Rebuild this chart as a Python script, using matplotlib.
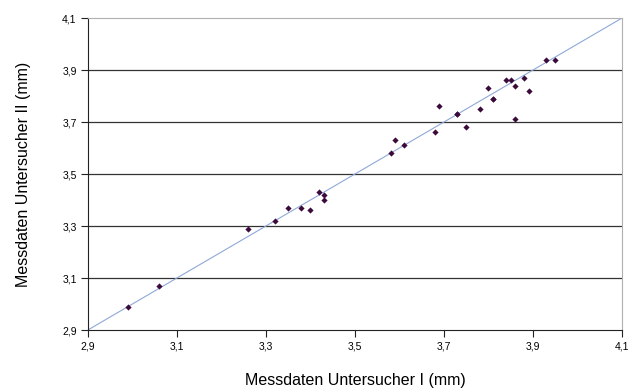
import matplotlib
matplotlib.use("Agg")
import matplotlib.pyplot as plt
from matplotlib.ticker import FuncFormatter

# Messwerte (mm): Untersucher I vs. Untersucher II
x_vals = [2.99, 3.06, 3.26, 3.32, 3.35, 3.38, 3.40, 3.42, 3.43, 3.43,
          3.58, 3.59, 3.61, 3.68, 3.69, 3.73, 3.73, 3.75, 3.78, 3.80,
          3.81, 3.81, 3.84, 3.85, 3.86, 3.86, 3.88, 3.89, 3.93, 3.95]
y_vals = [2.99, 3.07, 3.29, 3.32, 3.37, 3.37, 3.36, 3.43, 3.40, 3.42,
          3.58, 3.63, 3.61, 3.66, 3.76, 3.73, 3.73, 3.68, 3.75, 3.83,
          3.79, 3.79, 3.86, 3.86, 3.84, 3.71, 3.87, 3.82, 3.94, 3.94]
ticks = [2.9, 3.1, 3.3, 3.5, 3.7, 3.9, 4.1]

plt.rcParams["font.family"] = ["Liberation Sans", "DejaVu Sans"]

fig = plt.figure(figsize=(6.36, 3.92), dpi=100)
ax = fig.add_axes([0.138, 0.158, 0.840, 0.796])

# Winkelhalbierende
ax.plot([ticks[0], ticks[-1]], [ticks[0], ticks[-1]], color="#8fa8d8", lw=0.8, zorder=2)
ax.scatter(x_vals, y_vals, marker="D", s=10, color="#3b0a3b", zorder=3, linewidths=0)

ax.set_xlim(ticks[0], ticks[-1])
ax.set_ylim(ticks[0], ticks[-1])
ax.set_xticks(ticks)
ax.set_yticks(ticks)
comma = FuncFormatter(lambda v, p: f"{v:.1f}".replace(".", ","))
ax.xaxis.set_major_formatter(comma)
ax.yaxis.set_major_formatter(comma)
ax.tick_params(labelsize=7.5, direction="out", length=5, width=0.8, color="#222222", pad=3)

for t in ticks[1:-1]:
    ax.axhline(t, color="#333333", lw=0.9, zorder=1)

ax.spines["left"].set_color("#222222")
ax.spines["bottom"].set_color("#222222")
ax.spines["top"].set_color("#b0b0b0")
ax.spines["right"].set_color("#b0b0b0")
for s in ax.spines.values():
    s.set_linewidth(0.8)

ax.set_xlabel("Messdaten Untersucher I (mm)", fontsize=11.5, labelpad=16)
ax.set_ylabel("Messdaten Untersucher II (mm)", fontsize=11.5, labelpad=22)

fig.savefig("out.png", dpi=100)
plt.close()
